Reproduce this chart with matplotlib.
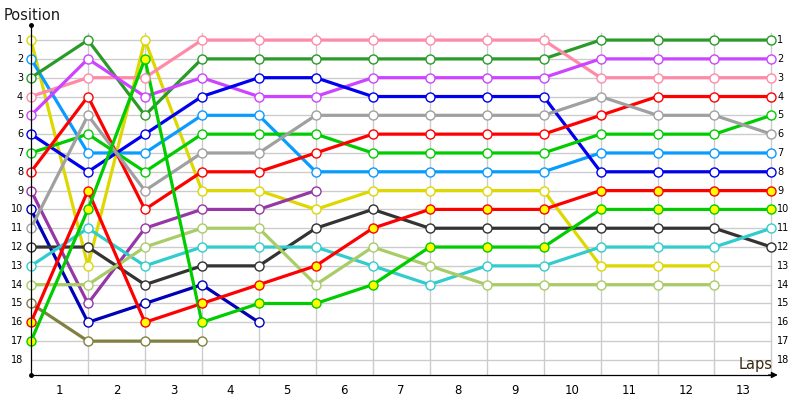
import matplotlib
matplotlib.use('Agg')
import matplotlib.pyplot as plt

# positions per lap marker (index 0 = grid/start)
yellow = [1, 13, 1, 9, 9, 10, 9, 9, 9, 9, 13, 13, 13]
light_blue = [2, 7, 7, 5, 5, 8, 8, 8, 8, 8, 7, 7, 7, 7]
dark_green = [3, 1, 5, 2, 2, 2, 2, 2, 2, 2, 1, 1, 1, 1]
pink = [4, 3, 3, 1, 1, 1, 1, 1, 1, 1, 3, 3, 3, 3]
violet = [5, 2, 4, 3, 4, 4, 3, 3, 3, 3, 2, 2, 2, 2]
blue = [6, 8, 6, 4, 3, 3, 4, 4, 4, 4, 8, 8, 8, 8]
green = [7, 6, 8, 6, 6, 6, 7, 7, 7, 7, 6, 6, 6, 5]
red = [8, 4, 10, 8, 8, 7, 6, 6, 6, 6, 5, 4, 4, 4]
purple = [9, 15, 11, 10, 10, 9]
dark_blue = [10, 16, 15, 14, 16]
gray = [11, 5, 9, 7, 7, 5, 5, 5, 5, 5, 4, 5, 5, 6]
black = [12, 12, 14, 13, 13, 11, 10, 11, 11, 11, 11, 11, 11, 12]
cyan = [13, 11, 13, 12, 12, 12, 13, 14, 13, 13, 12, 12, 12, 11]
light_green = [14, 14, 12, 11, 11, 14, 12, 13, 14, 14, 14, 14, 14]
olive = [15, 17, 17, 17]
red_2 = [16, 9, 16, 15, 14, 13, 11, 10, 10, 10, 9, 9, 9, 9]
green_2 = [17, 10, 2, 16, 15, 15, 14, 12, 12, 12, 10, 10, 10, 10]

laps = list(range(1, 14))
positions = list(range(1, 19))

drivers = [
    (yellow, '#dcd800', 'white'),
    (light_blue, '#0a9bff', 'white'),
    (dark_green, '#2a9a2a', 'white'),
    (pink, '#ff8aa8', 'white'),
    (violet, '#cc44ff', 'white'),
    (blue, '#0000ee', 'white'),
    (green, '#00cc00', 'white'),
    (red, '#ff0000', 'white'),
    (purple, '#9538a5', 'white'),
    (dark_blue, '#0000b8', 'white'),
    (gray, '#a0a0a0', 'white'),
    (black, '#333333', 'white'),
    (cyan, '#33cccc', 'white'),
    (light_green, '#a8cc66', 'white'),
    (olive, '#808040', 'white'),
    (red_2, '#ff0000', '#ffff00'),
    (green_2, '#00cc00', '#ffff00'),
]

fig = plt.figure(figsize=(8, 4), dpi=100)
ax = fig.add_axes([31 / 800, 25 / 400, 749 / 800, 350 / 400])
ax.set_xlim(0, 13.15)
ax.set_ylim(18.8, 0.2)
ax.axis('off')

# grid
for p in positions:
    ax.plot([0, 13], [p, p], color='#cccccc', lw=1, zorder=1)
for k in laps:
    ax.plot([k, k], [0.6, 18.8], color='#cccccc', lw=1, zorder=1)

# axes lines
ax.plot([0, 0], [18.8, 0.2], color='black', lw=0.9, zorder=5, clip_on=False)
ax.plot([0, 13.0], [18.8, 18.8], color='black', lw=0.9, zorder=5, clip_on=False)
ax.plot([0], [0.2], marker='o', color='black', ms=2.5, zorder=6, clip_on=False)
ax.plot([0], [18.8], marker='o', color='black', ms=2.5, zorder=6, clip_on=False)
ax.annotate('', xy=(13.16, 18.8), xytext=(12.9, 18.8),
            arrowprops=dict(arrowstyle='-|>', color='black', lw=0.9,
                            mutation_scale=9), annotation_clip=False)

for vals, col, fill in drivers:
    ax.plot(range(len(vals)), vals, color=col, lw=2.3, zorder=3, clip_on=False)
for vals, col, fill in drivers:
    ax.plot(range(len(vals)), vals, ls='none', marker='o', ms=6.5, mfc=fill,
            mec=col, mew=1.0, zorder=4, clip_on=False)

for p in positions:
    ax.text(-0.14, p, str(p), ha='right', va='center', fontsize=7, clip_on=False)
    ax.text(13.1, p, str(p), ha='left', va='center', fontsize=7, clip_on=False)
for k in laps:
    ax.text(k - 0.5, 19.6, str(k), ha='center', va='center', fontsize=8.5, clip_on=False)

fig.text(4 / 800, 1 - 15 / 400, 'Position', ha='left', va='center', fontsize=10.5,
         color='#1a1a1a')
fig.text(773 / 800, 1 - 364 / 400, 'Laps', ha='right', va='center', fontsize=10.5,
         color='#3a2810')

fig.savefig('out.png', dpi=100)
